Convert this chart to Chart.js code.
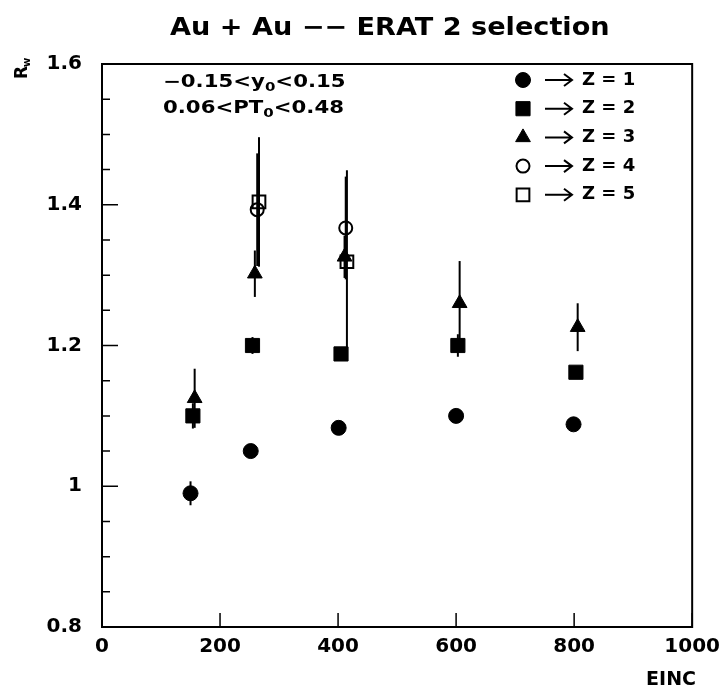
<!DOCTYPE html>
<html>
<head>
<meta charset="utf-8">
<script src="https://cdn.jsdelivr.net/npm/chart.js@4.4.1/dist/chart.umd.min.js"></script>
<style>
  html, body { margin: 0; padding: 0; background: #fff; }
  canvas { display: block; }
</style>
</head>
<body>
<canvas id="ratioChart" width="728" height="689"></canvas>
<script>
// beam energy (x) and ratio (y) for each fragment charge, error = half length of the bar
const z1Energy = [150, 252, 401, 600, 799]
const z1Ratio = [0.99, 1.05, 1.083, 1.10, 1.088]
const z1Error = [0.017, 0.006, 0.006, 0.006, 0.006]

const z2Energy = [154, 255, 405, 603, 803]
const z2Ratio = [1.10, 1.20, 1.188, 1.20, 1.162]
const z2Error = [0.018, 0.012, 0.008, 0.016, 0.008]

const z3Energy = [157, 259, 411, 606, 806]
const z3Ratio = [1.125, 1.302, 1.326, 1.26, 1.226]
const z3Error = [0.042, 0.033, 0.03, 0.06, 0.034]

const z4Energy = [263, 413]
const z4Ratio = [1.393, 1.367]
const z4Error = [0.08, 0.073]

const z5Energy = [266, 415]
const z5Ratio = [1.404, 1.319]
const z5Error = [0.092, 0.13]

const xTickLabels = [0, 200, 400, 600, 800, 1000]
const yTickLabels = [0.8, 1, 1.2, 1.4, 1.6]
const yMinorTicks = [0.85, 0.9, 0.95, 1.05, 1.1, 1.15, 1.25, 1.3, 1.35, 1.45, 1.5, 1.55]

const FONT = 'DejaVu Sans'

const series = [
  { z: 1, x: z1Energy, y: z1Ratio, err: z1Error, style: 'circle', radius: 7.5, open: false },
  { z: 2, x: z2Energy, y: z2Ratio, err: z2Error, style: 'rect', radius: 10, open: false },
  { z: 3, x: z3Energy, y: z3Ratio, err: z3Error, style: 'triangle', radius: 8.5, open: false },
  { z: 4, x: z4Energy, y: z4Ratio, err: z4Error, style: 'circle', radius: 6.5, open: true },
  { z: 5, x: z5Energy, y: z5Ratio, err: z5Error, style: 'rect', radius: 9, open: true }
]

const datasets = series.map(s => ({
  label: 'Z = ' + s.z,
  data: s.x.map((e, i) => ({ x: e, y: s.y[i] })),
  errors: s.err,
  showLine: false,
  pointStyle: s.style,
  pointRadius: s.radius,
  pointHoverRadius: s.radius,
  pointBorderWidth: s.open ? 2 : 1,
  pointBackgroundColor: s.open ? 'rgba(0,0,0,0)' : '#000',
  pointBorderColor: '#000'
}))

// text drawn a bit wider than the font, like the old plotting package did
function wideText(ctx, text, x, y, stretch) {
  ctx.save()
  ctx.translate(x, y)
  ctx.scale(stretch, 1)
  ctx.fillText(text, 0, 0)
  ctx.restore()
  return ctx.measureText(text).width * stretch
}

// frame, inward ticks, error bars, legend and texts
const paperStyle = {
  id: 'paperStyle',
  afterDatasetsDraw(chart) {
    const { ctx, scales: { x, y } } = chart
    ctx.save()
    ctx.strokeStyle = '#000'
    ctx.lineWidth = 2
    chart.data.datasets.forEach(ds => {
      ds.data.forEach((p, i) => {
        const e = ds.errors[i]
        if (!e) return
        const px = x.getPixelForValue(p.x)
        ctx.beginPath()
        ctx.moveTo(px, y.getPixelForValue(p.y - e))
        ctx.lineTo(px, y.getPixelForValue(p.y + e))
        ctx.stroke()
      })
    })
    ctx.restore()
  },
  afterDraw(chart) {
    const { ctx, chartArea: a, scales: { x, y } } = chart
    ctx.save()
    ctx.strokeStyle = '#000'
    ctx.fillStyle = '#000'
    ctx.lineWidth = 2
    ctx.strokeRect(a.left, a.top, a.right - a.left, a.bottom - a.top)

    ctx.lineWidth = 1.5
    ctx.beginPath()
    yTickLabels.forEach(v => {
      const py = y.getPixelForValue(v)
      ctx.moveTo(a.left, py)
      ctx.lineTo(a.left + 16, py)
    })
    yMinorTicks.forEach(v => {
      const py = y.getPixelForValue(v)
      ctx.moveTo(a.left, py)
      ctx.lineTo(a.left + 8, py)
    })
    xTickLabels.forEach(v => {
      const px = x.getPixelForValue(v)
      ctx.moveTo(px, a.bottom)
      ctx.lineTo(px, a.bottom - 14)
    })
    ctx.stroke()

    // title
    ctx.textBaseline = 'alphabetic'
    ctx.textAlign = 'left'
    ctx.font = 'bold 24px ' + FONT
    wideText(ctx, 'Au + Au −− ERAT 2 selection', 170, 35, 1.13)

    // x axis name
    ctx.font = 'bold 19px ' + FONT
    ctx.textAlign = 'right'
    ctx.fillText('EINC', 696, 685)

    // y axis name, rotated
    ctx.save()
    ctx.translate(27, 79)
    ctx.rotate(-Math.PI / 2)
    ctx.textAlign = 'left'
    ctx.font = 'bold 17px ' + FONT
    ctx.fillText('R', 0, 0)
    ctx.font = 'bold 10px ' + FONT
    ctx.fillText('w', 12, 3)
    ctx.restore()

    // cut annotation
    const subText = (parts, x0, y0) => {
      let cx = x0
      parts.forEach(([t, sub]) => {
        ctx.font = sub ? 'bold 12px ' + FONT : 'bold 17px ' + FONT
        cx += wideText(ctx, t, cx, sub ? y0 + 4 : y0, 1.25)
      })
    }
    ctx.textAlign = 'left'
    subText([['−0.15<y'], ['0', true], ['<0.15']], 163, 87)
    subText([['0.06<PT'], ['0', true], ['<0.48']], 163, 113)

    // legend
    chart.data.datasets.forEach((ds, i) => {
      const ly = 80 + i * 28.7
      ctx.save()
      ctx.fillStyle = ds.pointBackgroundColor
      ctx.strokeStyle = '#000'
      ctx.lineWidth = ds.pointBorderWidth
      Chart.helpers.drawPoint(ctx, {
        pointStyle: ds.pointStyle,
        radius: ds.pointRadius,
        borderWidth: ds.pointBorderWidth,
        rotation: 0
      }, 523, ly)
      ctx.restore()
      // arrow
      ctx.lineWidth = 2
      ctx.beginPath()
      ctx.moveTo(545, ly)
      ctx.lineTo(571, ly)
      ctx.moveTo(564, ly - 6)
      ctx.lineTo(572, ly)
      ctx.lineTo(564, ly + 6)
      ctx.stroke()
      ctx.font = 'bold 18px ' + FONT
      ctx.textBaseline = 'middle'
      ctx.textAlign = 'left'
      ctx.fillText(ds.label, 582, ly)
    })
    ctx.restore()
  }
}

new Chart(document.querySelector('#ratioChart'), {
  type: 'scatter',
  data: { datasets },
  options: {
    responsive: false,
    animation: false,
    events: [],
    layout: { padding: { top: 64, right: 32, left: 0, bottom: 0 } },
    plugins: {
      legend: { display: false },
      tooltip: { enabled: false }
    },
    scales: {
      x: {
        type: 'linear',
        min: 0,
        max: 1000,
        afterFit(scale) { scale.height = 62 },
        afterBuildTicks(scale) { scale.ticks = xTickLabels.map(v => ({ value: v })) },
        grid: { display: false, drawTicks: false },
        border: { display: false },
        ticks: {
          padding: 8,
          color: '#000',
          font: { family: FONT, size: 20, weight: 'bold' },
          maxRotation: 0,
          callback: v => String(v)
        }
      },
      y: {
        type: 'linear',
        min: 0.8,
        max: 1.6,
        afterFit(scale) { scale.width = 102 },
        afterBuildTicks(scale) { scale.ticks = yTickLabels.map(v => ({ value: v })) },
        grid: { display: false, drawTicks: false },
        border: { display: false },
        ticks: {
          padding: 20,
          color: '#000',
          font: { family: FONT, size: 20, weight: 'bold' },
          callback: v => String(v)
        }
      }
    }
  },
  plugins: [paperStyle]
})
</script>
</body>
</html>
